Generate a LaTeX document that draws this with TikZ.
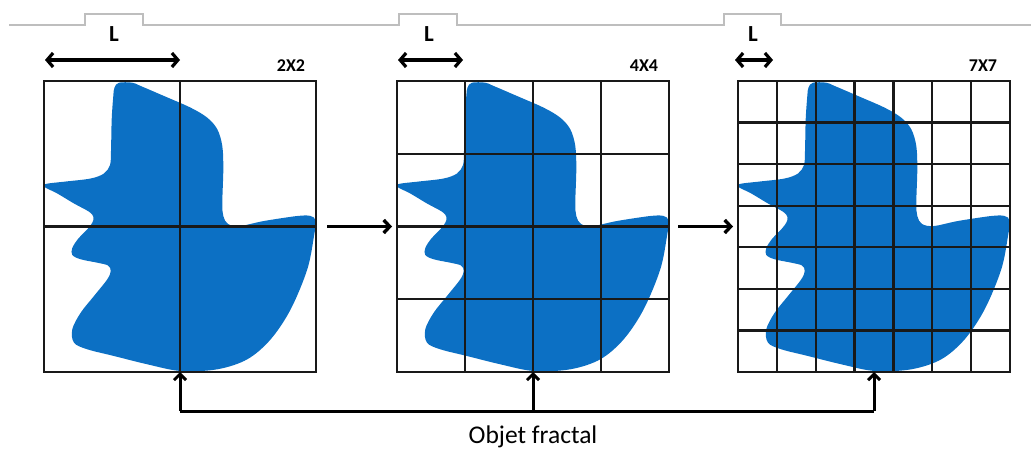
\documentclass[tikz,border=0pt]{standalone}
\usepackage{fontspec}
\setmainfont{Carlito}
\usetikzlibrary{arrows.meta,calc}

\definecolor{blobblue}{RGB}{12,112,196}
\definecolor{griddark}{RGB}{25,25,25}
\definecolor{tabgray}{RGB}{190,190,190}

\tikzset{
  cellbox/.style={rectangle, minimum width=272pt, minimum height=291pt,
                  inner sep=0pt, outer sep=0pt},
  gridline/.style={draw=griddark, line width=2.2pt},
  dimarrow/.style={draw=black, line width=3.2pt,
                   {Straight Barb[length=6pt,width=14pt]}-{Straight Barb[length=6pt,width=14pt]}},
  flowarrow/.style={draw=black, line width=3.4pt,
                    -{Straight Barb[length=6pt,width=13pt]}},
  busline/.style={draw=black, line width=3pt},
  uparrow/.style={draw=black, line width=3pt,
                  -{Straight Barb[length=6pt,width=12pt]}},
  dimlabel/.style={font=\fontsize{23}{26}\selectfont\bfseries, inner sep=0pt, anchor=base},
  sizelabel/.style={font=\fontsize{18}{21}\selectfont\bfseries, inner sep=0pt, anchor=base},
  captionlabel/.style={font=\fontsize{25.5}{28}\selectfont, inner sep=0pt, anchor=base},
  blob/.pic={
    \fill[blobblue] plot[smooth cycle, tension=0.55] coordinates {
      (75,1.7) (88.3,1.7) (96.7,5) (120,15) (146.7,26.7) (163.3,36.7)
      (173.3,48.3) (178.3,65) (179.3,88.3) (178.3,121.7) (179.3,135)
      (184,143) (196,145) (220,140) (253.3,135) (266.7,135)
      (271.7,140) (270,155) (263.3,188.3) (246.7,228.3) (226.7,258.3)
      (203.3,278.3) (173.3,288.3) (136.7,290) (103.3,283.3) (70,275)
      (43.3,268.3) (30,261.7) (28.3,248.3) (36.7,231.7) (50,215)
      (63.3,198.3) (66.7,190) (64,184.5) (53.3,181.7) (36.7,178.3)
      (28.3,174) (28.3,167) (34,158) (43.3,148.3) (48.3,141.7)
      (49.5,136) (45,130.7) (30,122.5) (13.3,112.5) (0,105.7)
      (2.5,102.8) (22,100.5) (46.7,97.5) (60,92.5) (66,84)
      (67,70) (67.7,38.3) (69.3,15) (70.5,6.5)
    };
  }
}

\begin{document}
\begin{tikzpicture}[x=1pt, y=-1pt]
  \useasboundingbox (0,0) rectangle (1031,449);

  % ruler line with three raised tabs
  \draw[tabgray, line width=1.2pt]
    (9,25) -- (85,25) -- (85,14) -- (143,14) -- (143,25)
    -- (399,25) -- (399,14) -- (457,14) -- (457,25)
    -- (724,25) -- (724,14) -- (781,14) -- (781,25) -- (1031,25);

  % the three boxes
  \node[cellbox] (g1) at (180,226.5) {};
  \node[cellbox] (g2) at (533,226.5) {};
  \node[cellbox] (g3) at (874,226.5) {};

  % the same shape in each box
  \pic at (g1.north west) {blob};
  \pic at (g2.north west) {blob};
  \pic at (g3.north west) {blob};

  % grids of 2x2, 4x4 and 7x7 cells
  \foreach \g/\n in {g1/2,g2/4,g3/7}{
    \pgfmathtruncatemacro\m{\n-1}
    \foreach \k in {1,...,\m}{
      \draw[gridline] ($(\g.north west)!\k/\n!(\g.north east)$) -- ($(\g.south west)!\k/\n!(\g.south east)$);
      \draw[gridline] ($(\g.north west)!\k/\n!(\g.south west)$) -- ($(\g.north east)!\k/\n!(\g.south east)$);
    }
    \draw[gridline] (\g.north west) rectangle (\g.south east);
  }

  % cell size L above each box
  \coordinate (d1a) at (45,60);  \coordinate (d1b) at (180,60);
  \coordinate (d2a) at (398,60); \coordinate (d2b) at (463,60);
  \coordinate (d3a) at (735,60); \coordinate (d3b) at (773,60);
  \draw[dimarrow] (d1a) -- (d1b);
  \draw[dimarrow] (d2a) -- (d2b);
  \draw[dimarrow] (d3a) -- (d3b);
  \node[dimlabel] (L1) at (114,42) {L};
  \node[dimlabel] (L2) at (429,42) {L};
  \node[dimlabel] (L3) at (753,42) {L};

  % grid sizes
  \node[sizelabel] (s1) at (291,72) {2X2};
  \node[sizelabel] (s2) at (644,72) {4X4};
  \node[sizelabel] (s3) at (983,72) {7X7};

  % refinement arrows
  \draw[flowarrow] ([xshift=11pt]g1.east) -- ([xshift=-5pt]g2.west);
  \draw[flowarrow] ([xshift=9pt]g2.east) -- ([xshift=-5pt]g3.west);

  % common caption connector
  \coordinate (bus) at (533,411);
  \draw[busline] (g1.south |- bus) -- (g3.south |- bus);
  \draw[uparrow] (g1.south |- bus) -- (g1.south);
  \draw[uparrow] (g2.south |- bus) -- (g2.south);
  \draw[uparrow] (g3.south |- bus) -- (g3.south);
  \node[captionlabel] (cap) at (533,443) {Objet fractal};
\end{tikzpicture}
\end{document}
